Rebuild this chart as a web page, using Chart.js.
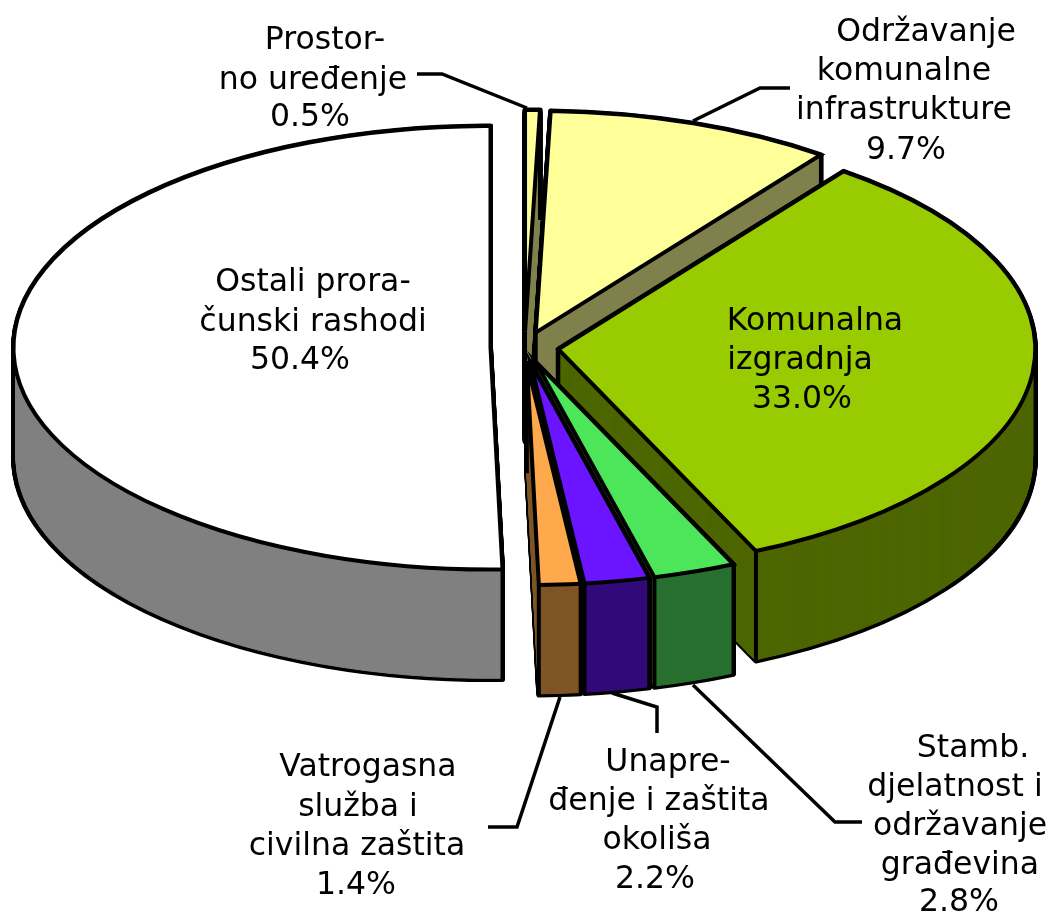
<!DOCTYPE html>
<html><head><meta charset="utf-8">
<style>html,body{margin:0;padding:0;background:#fff}canvas{display:block}</style>
<script src="https://cdn.jsdelivr.net/npm/chart.js@4"></script>
</head><body><canvas id="c" width="1056" height="912"></canvas>
<script>
const categories = ["Prostorno uređenje","Održavanje komunalne infrastrukture","Komunalna izgradnja","Stamb. djelatnost i održavanje građevina","Unapređenje i zaštita okoliša","Vatrogasna služba i civilna zaštita","Ostali proračunski rashodi"];
const values = [0.5, 9.7, 33.0, 2.8, 2.2, 1.4, 50.4];
const topColors = ["#FFFF99","#FFFF99","#99CC00","#4DE55A","#6A14FF","#FFA94D","#FFFFFF"];
const rimColors = ["#80804D","#80804D","#4D6600","#297030","#330A7A","#7F5526","#808080"];
const labelLines = [
  ["Prostor-","no uređenje"],
  ["Održavanje","komunalne","infrastrukture"],
  ["Komunalna","izgradnja"],
  ["Stamb.","djelatnost i","održavanje","građevina"],
  ["Unapre-","đenje i zaštita","okoliša"],
  ["Vatrogasna","služba i","civilna zaštita"],
  ["Ostali prora-","čunski rashodi"]
];
const labelPlaces = [
  [[325,38],[313,78],[310,115]],
  [[926,30],[904,69],[904,108],[906,148]],
  [[815,319],[800,358],[802,397]],
  [[973,746],[955,785],[960,824],[960,863],[959,900]],
  [[668,760],[659,799],[657,838],[655,877]],
  [[368,765],[358,805],[357,844],[356,883]],
  [[313,280],[313,320],[300,358]]
];
const leaders = [
  [[417,74],[442,74],[527,108]],
  [[693,121],[760,88],[790,88]],
  [[693,685],[835,822],[862,822]],
  [[612,693],[657,707],[657,733]],
  [[488,827],[517,827],[560,697]]
];
const drawOrder = [0,1,2,6,3,4,5];
const TILT = 0.465, CENTER_Y = 347.5, DEPTH = 110, EXPLODE = 34, LINE = 4;

function baseOpts(fill, stroke, width, join){
  return {backgroundColor:fill,borderColor:stroke,borderWidth:width,borderAlign:'center',
          borderJoinStyle:join,borderRadius:0,spacing:0,offset:0,circular:true};
}
function shift(arc){
  const mid=(arc.startAngle+arc.endAngle)/2;
  return {x:Math.cos(mid)*EXPLODE,y:Math.sin(mid)*EXPLODE*TILT};
}
function paint(ctx,arc,d,opts,inset){
  const s=shift(arc);
  ctx.save();
  ctx.translate(arc.x+s.x,CENTER_Y+s.y+d);
  ctx.scale(1,TILT);
  ctx.translate(-arc.x,-arc.y);
  Object.create(arc,{options:{value:opts,writable:true},outerRadius:{value:arc.outerRadius-(inset||0),writable:true}}).draw(ctx);
  ctx.restore();
}
function edge(ctx,arc,angle,r){
  const s=shift(arc);
  const x=arc.x+s.x+r*Math.cos(angle), y=CENTER_Y+s.y+TILT*r*Math.sin(angle);
  ctx.beginPath();ctx.moveTo(x,y);ctx.lineTo(x,y+DEPTH);ctx.stroke();
}
const pie3d = {
  id:'pie3d',
  beforeDatasetDraw(chart,args){
    const ctx=chart.ctx, arcs=args.meta.data;
    const nativeStroke=ctx.stroke;
    // keep the pen round although the ellipse is made with a non-uniform scale
    ctx.stroke=function(){
      ctx.save();ctx.setTransform(1,0,0,1,0,0);nativeStroke.call(ctx);ctx.restore();
    };
    drawOrder.forEach(i=>{
      const arc=arcs[i];
      for(let d=DEPTH;d>=0;d--) paint(ctx,arc,d,baseOpts('#000','#000',5,'round'));
      for(let d=DEPTH;d>=0;d--) paint(ctx,arc,d,baseOpts(rimColors[i],rimColors[i],1,'round'),2.5);
      ctx.save();ctx.strokeStyle='#000';ctx.lineWidth=LINE;ctx.lineCap='butt';
      edge(ctx,arc,arc.startAngle,arc.outerRadius);
      edge(ctx,arc,arc.endAngle,arc.outerRadius);
      edge(ctx,arc,arc.startAngle,0);
      ctx.restore();
      paint(ctx,arc,0,baseOpts(topColors[i],'#000',LINE,'miter'));
    });
    delete ctx.stroke;
    return false;
  },
  afterDraw(chart){
    const ctx=chart.ctx;
    ctx.save();
    ctx.strokeStyle='#000';ctx.lineWidth=3.5;ctx.lineJoin='miter';
    leaders.forEach(p=>{
      ctx.beginPath();
      p.forEach((q,k)=>k?ctx.lineTo(q[0],q[1]):ctx.moveTo(q[0],q[1]));
      ctx.stroke();
    });
    ctx.fillStyle='#000';ctx.textAlign='center';ctx.textBaseline='middle';
    ctx.font='31.5px "DejaVu Sans"';
    labelLines.forEach((lines,i)=>{
      const all=lines.concat([values[i].toFixed(1)+'%']);
      all.forEach((t,k)=>ctx.fillText(t,labelPlaces[i][k][0],labelPlaces[i][k][1]+3));
    });
    ctx.restore();
  }
};
new Chart(document.getElementById('c'),{
  type:'pie',
  data:{labels:categories,datasets:[{data:values,backgroundColor:topColors,borderColor:'#000',borderWidth:LINE,radius:477}]},
  options:{responsive:false,animation:false,rotation:0,
    layout:{padding:{right:7}},
    plugins:{legend:{display:false},tooltip:{enabled:false}}},
  plugins:[pie3d]
});
</script></body></html>
